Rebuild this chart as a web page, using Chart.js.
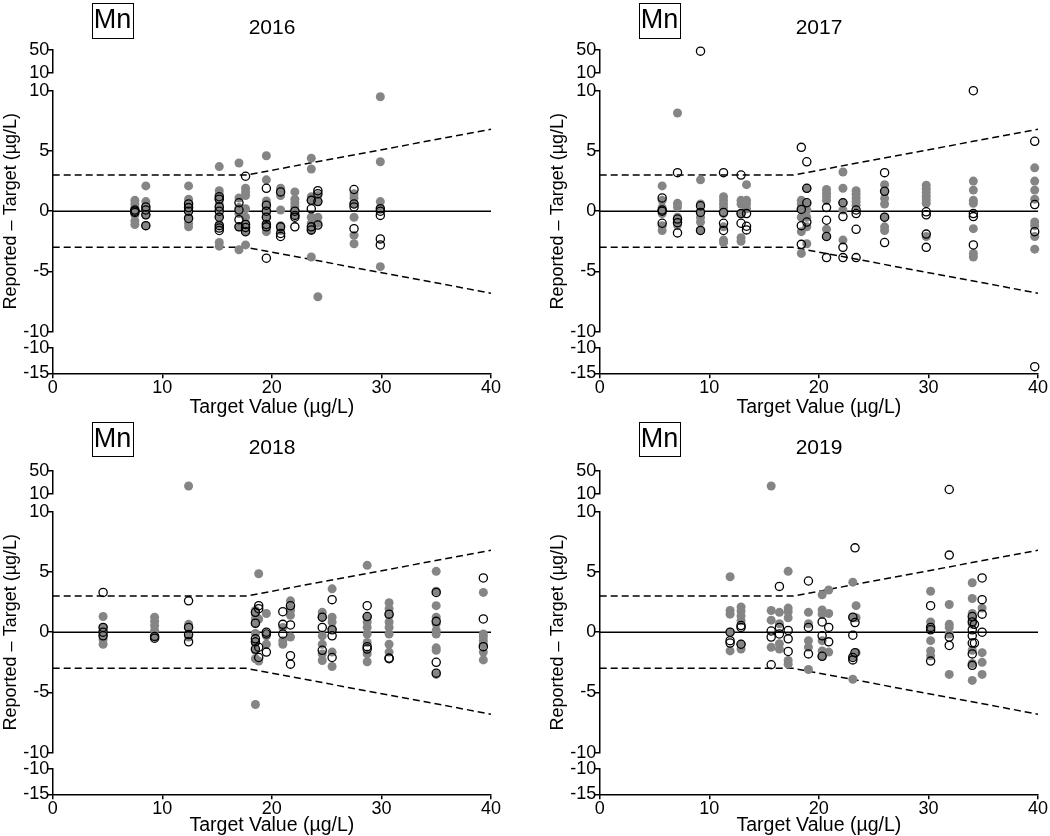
<!DOCTYPE html>
<html><head><meta charset="utf-8">
<script src="https://cdn.jsdelivr.net/npm/chart.js"></script>
<style>
html,body{margin:0;padding:0;background:#fff;}
#wrap{position:relative;width:1050px;height:836px;overflow:hidden;font-family:"Liberation Sans",Arial,sans-serif;color:#000;}
.panel{position:absolute;}
.panel canvas{position:absolute;left:0;top:0;}
.mn{position:absolute;border:1.5px solid #000;font-size:27px;text-align:center;box-sizing:border-box;display:flex;align-items:center;justify-content:center;padding-bottom:2px;}
.yr{position:absolute;font-size:21px;line-height:21px;transform:translateX(-50%);white-space:nowrap;}
</style></head><body><div id="wrap"></div>
<script>
// ---------- data ----------
const years = ['2016', '2017', '2018', '2019'];
const elementLabel = 'Mn';
const xTicks = [0, 10, 20, 30, 40];
const yMainTicks = [-10, -5, 0, 5, 10];
const yUpperTicks = [10, 50];
const yLowerTicks = [-15, -10];
const limitX = [0, 17.65, 40];
const limitY = [3, 3, 6.8];
const zeroX = [0, 40];
const zeroY = [0, 0];

const gray2016 = [
 [7.5,0.9],[7.5,0.6],[7.5,0.3],[7.5,0.0],[7.5,-0.3],[7.5,-0.8],[7.5,-1.1],
 [8.5,2.1],[8.5,0.8],[8.5,0.4],[8.5,0.1],[8.5,-0.3],[8.5,-1.2],
 [12.4,2.1],[12.4,1.0],[12.4,0.7],[12.4,0.4],[12.4,0.0],[12.4,-0.5],[12.4,-1.0],[12.4,-1.3],
 [15.2,3.7],[15.2,1.7],[15.2,1.4],[15.2,1.0],[15.2,0.6],[15.2,0.2],[15.2,-0.4],[15.2,-1.1],[15.2,-2.6],[15.2,-2.9],
 [17.0,4.0],[17.0,1.1],[17.0,0.3],[17.0,-0.2],[17.0,-1.3],[17.0,-3.2],
 [17.6,1.9],[17.6,1.6],[17.6,1.3],[17.6,0.2],[17.6,-0.5],[17.6,-1.0],[17.6,-1.7],[17.6,-2.8],
 [19.5,4.6],[19.5,2.6],[19.5,0.85],[19.5,0.6],[19.5,0.2],[19.5,-0.1],[19.5,-0.5],[19.5,-1.0],[19.5,-1.4],[19.5,-1.7],
 [20.8,1.9],[20.8,1.6],[20.8,1.3],[20.8,0.1],[20.8,-1.2],[20.8,-1.6],
 [22.1,1.6],[22.1,1.0],[22.1,0.7],[22.1,0.4],[22.1,0.1],[22.1,-0.3],
 [23.6,4.4],[23.6,3.5],[23.6,1.2],[23.6,0.9],[23.6,-0.5],[23.6,-1.0],[23.6,-1.6],[23.6,-3.8],
 [24.2,1.3],[24.2,0.8],[24.2,-0.5],[24.2,-1.0],[24.2,-7.1],
 [27.5,1.45],[27.5,1.1],[27.5,0.6],[27.5,-0.5],[27.5,-2.0],[27.5,-2.7],
 [29.9,9.5],[29.9,4.1],[29.9,0.8],[29.9,0.3],[29.9,-4.6]
];
const open2016 = [
 [7.5,0.1],[7.5,0.0],[7.5,-0.1],
 [8.5,0.35],[8.5,0.1],[8.5,-0.3],[8.5,-1.2],
 [12.4,0.6],[12.4,0.3],[12.4,0.0],[12.4,-0.6],
 [15.2,1.2],[15.2,1.0],[15.2,0.35],[15.2,0.0],[15.2,-0.5],[15.2,-1.2],[15.2,-1.4],[15.2,-1.6],
 [17.0,0.7],[17.0,0.1],[17.0,-0.7],[17.0,-1.3],
 [17.6,2.9],[17.6,-1.1],[17.6,-1.35],[17.6,-1.7],
 [19.5,1.9],[19.5,0.5],[19.5,0.0],[19.5,-0.5],[19.5,-1.1],[19.5,-1.3],[19.5,-3.9],
 [20.8,1.6],[20.8,-1.3],[20.8,-1.85],[20.8,-2.1],
 [22.1,0.0],[22.1,-0.35],[22.1,-0.5],[22.1,-1.3],
 [23.6,0.9],[23.6,0.2],[23.6,-1.3],[23.6,-1.55],
 [24.2,1.7],[24.2,1.45],[24.2,0.8],[24.2,-1.15],
 [27.5,1.8],[27.5,0.6],[27.5,0.35],[27.5,-1.45],
 [29.9,0.2],[29.9,0.0],[29.9,-0.35],[29.9,-2.3],[29.9,-2.8]
];
const gray2017 = [
 [5.7,2.1],[5.7,0.9],[5.7,0.3],[5.7,-0.2],[5.7,-1.2],[5.7,-1.6],
 [7.1,8.15],[7.1,0.65],[7.1,0.35],[7.1,-0.5],[7.1,-1.15],
 [9.2,2.6],[9.2,0.6],[9.2,0.0],[9.2,-0.5],[9.2,-0.9],[9.2,-1.6],
 [11.3,1.2],[11.3,0.9],[11.3,0.6],[11.3,0.3],[11.3,-0.2],[11.3,-1.3],[11.3,-2.4],[11.3,-2.6],
 [12.9,0.9],[12.9,0.6],[12.9,-0.2],[12.9,-2.2],[12.9,-2.5],
 [13.4,2.2],[13.4,0.9],[13.4,0.6],[13.4,0.2],
 [18.4,0.9],[18.4,0.6],[18.4,0.2],[18.4,-0.5],[18.4,-1.7],[18.4,-3.5],
 [18.9,1.9],[18.9,0.6],[18.9,0.1],[18.9,-0.5],[18.9,-1.3],[18.9,-2.7],
 [20.7,1.8],[20.7,1.5],[20.7,1.2],[20.7,0.9],[20.7,-1.5],[20.7,-2.1],
 [22.2,3.25],[22.2,1.9],[22.2,0.7],[22.2,0.1],[22.2,-2.4],
 [23.4,1.7],[23.4,1.4],[23.4,1.1],[23.4,0.8],[23.4,0.5],
 [26.0,2.2],[26.0,1.7],[26.0,1.05],[26.0,0.6],[26.0,-0.5],[26.0,-1.3],[26.0,-1.6],
 [29.8,2.15],[29.8,1.85],[29.8,1.55],[29.8,1.25],[29.8,0.95],[29.8,0.65],[29.8,-2.1],
 [34.1,2.5],[34.1,1.75],[34.1,0.9],[34.1,0.65],[34.1,-1.45],[34.1,-3.5],[34.1,-3.8],
 [39.7,3.6],[39.7,2.5],[39.7,1.75],[39.7,1.0],[39.7,-0.9],[39.7,-1.2],[39.7,-2.1],[39.7,-3.15]
];
const open2017 = [
 [5.7,1.1],[5.7,0.1],[5.7,0.0],[5.7,-1.0],
 [7.1,3.2],[7.1,-0.65],[7.1,-0.95],[7.1,-1.8],
 [9.2,48],[9.2,0.45],[9.2,-0.1],[9.2,-1.6],
 [11.3,3.2],[11.3,-0.1],[11.3,-1.0],[11.3,-1.6],
 [12.9,3.0],[12.9,-0.2],[12.9,-1.0],
 [13.4,-0.2],[13.4,-1.25],[13.4,-1.55],
 [18.4,5.3],[18.4,0.15],[18.4,-1.2],[18.4,-2.75],
 [18.9,4.1],[18.9,1.9],[18.9,0.7],[18.9,-0.9],
 [20.7,0.3],[20.7,-0.75],[20.7,-2.1],[20.7,-3.85],
 [22.2,0.7],[22.2,-0.45],[22.2,-3.0],[22.2,-3.85],
 [23.4,0.1],[23.4,-0.2],[23.4,-1.5],[23.4,-3.85],
 [26.0,3.2],[26.0,1.65],[26.0,-0.5],[26.0,-2.6],
 [29.8,-0.05],[29.8,-0.3],[29.8,-1.9],[29.8,-3.0],
 [34.1,10],[34.1,-0.2],[34.1,-0.45],[34.1,-2.8],
 [39.7,5.8],[39.7,0.55],[39.7,-1.7],[39.7,-13.7]
];
const gray2018 = [
 [4.6,1.3],[4.6,0.4],[4.6,0.1],[4.6,-0.3],[4.6,-0.6],[4.6,-1.0],
 [9.3,1.25],[9.3,0.9],[9.3,0.55],[9.3,0.15],[9.3,-0.4],
 [12.4,23.5],[12.4,0.65],[12.4,0.4],[12.4,-0.4],
 [18.5,1.8],[18.5,1.5],[18.5,1.1],[18.5,0.7],[18.5,-0.1],[18.5,-0.9],[18.5,-1.5],[18.5,-2.2],[18.5,-6.0],
 [18.8,4.85],[18.8,1.1],[18.8,-2.4],
 [19.5,1.55],[19.5,-0.3],[19.5,-1.0],
 [21.0,0.4],[21.0,-0.7],[21.0,-1.0],
 [21.7,2.6],[21.7,2.0],[21.7,1.8],[21.7,1.4],[21.7,-0.4],
 [24.6,1.65],[24.6,1.25],[24.6,-0.3],[24.6,-1.0],[24.6,-1.8],[24.6,-2.35],
 [25.5,3.6],[25.5,1.25],[25.5,0.85],[25.5,0.3],[25.5,-1.65],[25.5,-2.85],
 [28.7,5.55],[28.7,1.25],[28.7,0.85],[28.7,0.4],[28.7,-0.15],[28.7,-0.85],[28.7,-1.8],[28.7,-2.45],
 [30.7,2.45],[30.7,1.95],[30.7,1.4],[30.7,0.85],[30.7,0.4],[30.7,-0.15],[30.7,-1.0],[30.7,-1.65],
 [35.0,5.05],[35.0,3.4],[35.0,2.2],[35.0,1.25],[35.0,0.7],[35.0,0.15],[35.0,-0.15],[35.0,-1.3],[35.0,-1.5],[35.0,-3.5],
 [39.3,3.3],[39.3,-0.15],[39.3,-0.4],[39.3,-0.7],[39.3,-1.0],[39.3,-1.65],[39.3,-2.3]
];
const open2018 = [
 [4.6,3.3],[4.6,0.4],[4.6,0.0],[4.6,-0.3],
 [9.3,-0.35],[9.3,-0.5],
 [12.4,2.6],[12.4,0.4],[12.4,-0.2],[12.4,-0.8],
 [18.5,1.65],[18.5,0.75],[18.5,-0.55],[18.5,-0.8],[18.5,-1.4],
 [18.8,2.2],[18.8,1.95],[18.8,-1.25],[18.8,-2.1],
 [19.5,0.0],[19.5,-0.15],[19.5,-1.65],
 [21.0,1.7],[21.0,0.65],[21.0,-0.15],
 [21.7,2.2],[21.7,0.6],[21.7,-1.95],[21.7,-2.65],
 [24.6,1.25],[24.6,0.4],[24.6,-1.5],
 [25.5,2.7],[25.5,0.2],[25.5,-0.3],[25.5,-2.1],
 [28.7,2.2],[28.7,1.3],[28.7,-1.2],[28.7,-1.4],
 [30.7,1.5],[30.7,-2.15],[30.7,-2.2],
 [35.0,3.3],[35.0,0.9],[35.0,-2.5],[35.0,-3.4],
 [39.3,4.5],[39.3,1.1],[39.3,-1.2]
];
const gray2019 = [
 [11.9,4.6],[11.9,1.8],[11.9,1.5],[11.9,0.0],[11.9,-1.55],
 [12.9,2.1],[12.9,1.75],[12.9,1.35],[12.9,0.95],[12.9,-1.0],[12.9,-1.4],
 [15.65,23.5],[15.65,1.8],[15.65,1.0],[15.65,-1.25],
 [16.4,1.65],[16.4,0.7],[16.4,-0.95],[16.4,-1.4],
 [17.2,5.05],[17.2,2.0],[17.2,1.7],[17.2,1.2],[17.2,-2.35],[17.2,-2.65],
 [19.05,1.65],[19.05,0.7],[19.05,-0.7],[19.05,-1.25],[19.05,-3.1],
 [20.3,3.1],[20.3,1.85],[20.3,1.5],[20.3,-0.7],[20.3,-1.55],[20.3,-2.0],
 [20.9,3.5],[20.9,1.55],[20.9,-1.65],
 [23.1,4.15],[23.1,1.2],[23.1,-2.0],[23.1,-3.9],
 [23.4,2.2],[23.4,1.2],[23.4,-1.7],
 [30.2,3.4],[30.2,0.85],[30.2,0.4],[30.2,-0.7],[30.2,-1.55],[30.2,-1.95],
 [31.9,2.3],[31.9,0.65],[31.9,0.4],[31.9,-0.15],[31.9,-3.5],
 [34.0,4.1],[34.0,2.8],[34.0,1.55],[34.0,1.1],[34.0,0.65],[34.0,-1.5],[34.0,-2.6],[34.0,-4.0],
 [34.9,2.0],[34.9,-1.7],[34.9,-2.5],[34.9,-3.5]
];
const open2019 = [
 [11.9,0.0],[11.9,-0.7],[11.9,-0.9],
 [12.9,0.55],[12.9,0.4],[12.9,-1.0],
 [15.65,0.1],[15.65,-0.4],[15.65,-2.7],
 [16.4,3.8],[16.4,0.4],[16.4,-0.15],
 [17.2,0.15],[17.2,-0.55],[17.2,-1.6],
 [19.05,4.25],[19.05,0.4],[19.05,-1.8],
 [20.3,0.85],[20.3,-0.3],[20.3,-2.0],
 [20.9,0.4],[20.9,-0.8],
 [23.1,1.25],[23.1,-0.25],[23.1,-2.1],[23.1,-2.3],
 [23.3,7.0],[23.3,0.8],[23.3,-1.7],
 [30.2,2.2],[30.2,0.4],[30.2,0.2],[30.2,-2.4],
 [31.9,17.4],[31.9,6.4],[31.9,-0.4],[31.9,-1.1],
 [34.0,1.3],[34.0,0.85],[34.0,0.2],[34.0,-0.3],[34.0,-0.9],[34.0,-1.8],[34.0,-2.75],
 [34.2,0.65],[34.2,-0.9],
 [34.9,4.5],[34.9,2.7],[34.9,1.5],[34.9,0.0]
];
const grayByYear = [gray2016, gray2017, gray2018, gray2019];
const openByYear = [open2016, open2017, open2018, open2019];

// ---------- layout ----------
const FONT = '"Liberation Sans", Arial, sans-serif';
Chart.defaults.font.family = FONT;
Chart.defaults.color = '#000';
const panels = [
  {left: 0,   top: 0,   w: 525, h: 418, mnTop: 3,   yrTop: 16},
  {left: 547, top: 0,   w: 503, h: 418, mnTop: 3,   yrTop: 16},
  {left: 0,   top: 421, w: 525, h: 415, mnTop: 0.5, yrTop: 15},
  {left: 547, top: 421, w: 503, h: 415, mnTop: 0.5, yrTop: 15}
];
const AXIS_W = 52.7, PLOT_TOP = 50, PLOT_BOTTOM = 373.3, PLOT_RIGHT = 491;
const SEG = {up: 22.7, gapA: 18, main: 241, gapB: 16, low: 25.6};

function pts(pairs, test) {
  return pairs.filter(p => test(p[1])).map(p => ({x: p[0], y: p[1]}));
}
const inMain = v => v >= -10 && v <= 10, inUp = v => v > 10, inLow = v => v < -10;

function yAxis(ticksArr, weight, stackWeight, title) {
  return {
    type: 'linear', axis: 'y', position: 'left', stack: 'y', stackWeight, weight,
    min: ticksArr[0], max: ticksArr[ticksArr.length - 1],
    afterBuildTicks: s => { s.ticks = ticksArr.map(v => ({value: v})); },
    afterFit: s => { s.width = AXIS_W; },
    border: {display: true, color: '#000', width: 1.5},
    grid: {display: true, drawOnChartArea: false, drawTicks: true, tickLength: 5, color: '#000', lineWidth: 1.5},
    ticks: {autoSkip: false, color: '#000', font: {size: 18, family: FONT}, padding: -1.5},
    title: title ? {display: true, text: title, color: '#000', font: {size: 18, family: FONT}, padding: 0} : {display: false}
  };
}

const wrap = document.getElementById('wrap');
panels.forEach((p, i) => {
  const div = document.createElement('div');
  div.className = 'panel';
  div.style.cssText = `left:${p.left}px;top:${p.top}px;width:${p.w}px;height:${p.h}px;`;
  const cv = document.createElement('canvas');
  cv.width = p.w; cv.height = p.h;
  cv.style.width = p.w + 'px'; cv.style.height = p.h + 'px';
  div.appendChild(cv);
  const mn = document.createElement('div');
  mn.className = 'mn'; mn.textContent = elementLabel;
  mn.style.cssText = `left:91.5px;top:${p.mnTop}px;width:42px;height:35.5px;`;
  div.appendChild(mn);
  const yr = document.createElement('div');
  yr.className = 'yr'; yr.textContent = years[i];
  yr.style.cssText = `left:272px;top:${p.yrTop}px;`;
  div.appendChild(yr);
  wrap.appendChild(div);

  const gray = grayByYear[i], open = openByYear[i];
  const grayStyle = {backgroundColor: '#858585', borderWidth: 0, pointRadius: 4.5, pointHoverRadius: 4.5, order: 2, clip: false};
  const openStyle = {backgroundColor: 'rgba(255,255,255,0)', borderColor: '#000', borderWidth: 1.3, pointRadius: 4.1, pointHoverRadius: 4.1, order: 1, clip: false};
  const lineStyle = {type: 'line', showLine: true, borderColor: '#000', borderWidth: 1.5, pointRadius: 0, fill: false, yAxisID: 'yMain', order: 3};

  const datasets = [
    Object.assign({}, lineStyle, {data: zeroX.map((x, k) => ({x, y: zeroY[k]}))}),
    Object.assign({}, lineStyle, {borderDash: [7, 4], data: limitX.map((x, k) => ({x, y: limitY[k]}))}),
    Object.assign({}, lineStyle, {borderDash: [7, 4], data: limitX.map((x, k) => ({x, y: -limitY[k]}))}),
    Object.assign({}, grayStyle, {yAxisID: 'yMain', data: pts(gray, inMain)}),
    Object.assign({}, grayStyle, {yAxisID: 'yUp', data: pts(gray, inUp)}),
    Object.assign({}, grayStyle, {yAxisID: 'yLow', data: pts(gray, inLow)}),
    Object.assign({}, openStyle, {yAxisID: 'yMain', data: pts(open, inMain)}),
    Object.assign({}, openStyle, {yAxisID: 'yUp', data: pts(open, inUp)}),
    Object.assign({}, openStyle, {yAxisID: 'yLow', data: pts(open, inLow)})
  ];

  new Chart(cv, {
    type: 'scatter',
    data: {datasets},
    options: {
      responsive: false, animation: false, devicePixelRatio: 1, events: [],
      layout: {padding: {left: 0, top: PLOT_TOP, right: p.w - PLOT_RIGHT, bottom: 0}},
      plugins: {legend: {display: false}, tooltip: {enabled: false}, title: {display: false}},
      scales: {
        x: {
          type: 'linear', position: 'bottom', min: 0, max: 40,
          afterBuildTicks: s => { s.ticks = xTicks.map(v => ({value: v})); },
          afterFit: s => { s.height = p.h - PLOT_BOTTOM; },
          border: {display: true, color: '#000', width: 1.5},
          grid: {display: true, drawOnChartArea: false, drawTicks: true, tickLength: 5, color: '#000', lineWidth: 1.5},
          ticks: {autoSkip: false, maxRotation: 0, color: '#000', font: {size: 18, family: FONT}, padding: -1},
          title: {display: true, text: 'Target Value (µg/L)', color: '#000', font: {size: 19.5, family: FONT, lineHeight: 1.1}, padding: 0}
        },
        yUp: yAxis(yUpperTicks, 5, SEG.up, null),
        gapA: {type: 'linear', axis: 'y', position: 'left', stack: 'y', stackWeight: SEG.gapA, weight: 4, display: false},
        yMain: yAxis(yMainTicks, 3, SEG.main, 'Reported – Target (µg/L)'),
        gapB: {type: 'linear', axis: 'y', position: 'left', stack: 'y', stackWeight: SEG.gapB, weight: 2, display: false},
        yLow: yAxis(yLowerTicks, 1, SEG.low, null)
      }
    }
  });
});
</script>
</body></html>
